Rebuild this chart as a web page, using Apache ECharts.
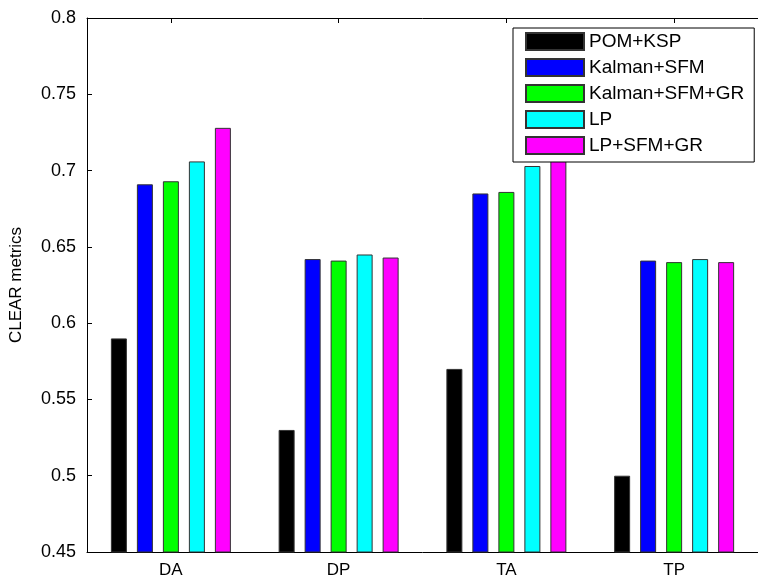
<!DOCTYPE html>
<html>
<head>
<meta charset="utf-8">
<script src="https://cdn.jsdelivr.net/npm/echarts@6/dist/echarts.min.js"></script>
<style>html,body{margin:0;padding:0;background:#fff}#c{width:758px;height:586px}</style>
</head>
<body>
<div id="c"></div>
<script>
const categories = ['DA', 'DP', 'TA', 'TP'];
const seriesNames = ['POM+KSP', 'Kalman+SFM', 'Kalman+SFM+GR', 'LP', 'LP+SFM+GR'];
const pomKsp = [0.590, 0.530, 0.570, 0.500];
const kalmanSfm = [0.691, 0.642, 0.685, 0.641];
const kalmanSfmGr = [0.693, 0.641, 0.686, 0.640];
const lp = [0.706, 0.645, 0.703, 0.642];
const lpSfmGr = [0.728, 0.643, 0.722, 0.640];
const colors = ['#000000', '#0000ff', '#00ff00', '#00ffff', '#ff00ff'];
const yTicks = [0.45, 0.5, 0.55, 0.6, 0.65, 0.7, 0.75, 0.8];

const values = [pomKsp, kalmanSfm, kalmanSfmGr, lp, lpSfmGr];
const font = 'Liberation Sans, Arial, Helvetica, sans-serif';
const chart = echarts.init(document.getElementById('c'), null, {renderer: 'canvas'});
chart.setOption({
  animation: false,
  backgroundColor: '#ffffff',
  grid: {left: 86, top: 18, width: 674, height: 534, containLabel: false},
  legend: {
    orient: 'vertical', left: 513, top: 28,
    padding: [4, 10, 7, 12],
    icon: 'rect',
    itemWidth: 58, itemHeight: 17, itemGap: 7,
    backgroundColor: '#ffffff', borderColor: '#000', borderWidth: 1,
    textStyle: {fontFamily: font, fontSize: 19, color: '#000'},
    data: seriesNames
  },
  xAxis: [{
    type: 'category', data: categories, position: 'bottom',
    axisLine: {lineStyle: {color: '#000', width: 1}},
    axisTick: {show: true, inside: true, alignWithLabel: true, length: 5, lineStyle: {color: '#000'}},
    axisLabel: {fontFamily: font, fontSize: 17, color: '#000', margin: 10},
    splitLine: {show: false}
  }, {
    type: 'category', data: categories, position: 'top',
    axisLine: {show: true, lineStyle: {color: '#000', width: 1}},
    axisTick: {show: true, inside: true, alignWithLabel: true, length: 5, lineStyle: {color: '#000'}},
    axisLabel: {show: false},
    splitLine: {show: false}
  }],
  yAxis: {
    type: 'value', min: 0.45, max: 0.8, interval: 0.05,
    name: 'CLEAR metrics', nameLocation: 'middle', nameGap: 62,
    nameTextStyle: {fontFamily: font, fontSize: 17, color: '#000'},
    axisLine: {show: true, lineStyle: {color: '#000', width: 1}},
    axisTick: {show: true, inside: true, length: 5, lineStyle: {color: '#000'}},
    axisLabel: {fontFamily: font, fontSize: 18, color: '#000', margin: 11,
      formatter: v => { const t = yTicks.find(k => Math.abs(k - v) < 1e-9); return t === undefined ? '' : String(t); }},
    splitLine: {show: false}
  },
  series: seriesNames.map((n, i) => ({
    name: n, type: 'bar', xAxisIndex: 0, data: values[i],
    barWidth: 16, barGap: '62.5%',
    itemStyle: {color: colors[i], borderColor: '#333', borderWidth: 1}
  }))
});
</script>
</body>
</html>
